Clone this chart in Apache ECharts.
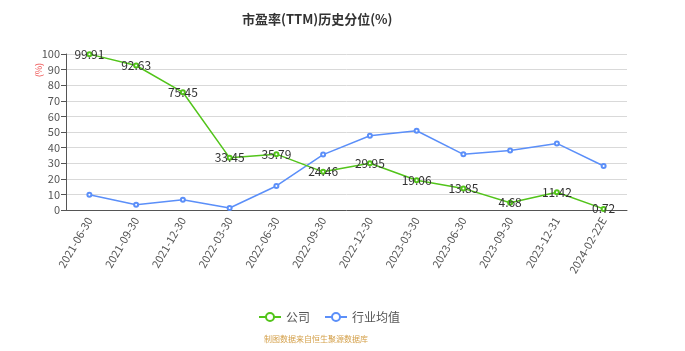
<!DOCTYPE html>
<html>
<head>
<meta charset="utf-8">
<script src="https://cdn.jsdelivr.net/npm/echarts@6/dist/echarts.min.js"></script>
<style>
  html, body { margin: 0; padding: 0; background: #fff; }
  #main { width: 685px; height: 351px; }
</style>
</head>
<body>
<div id="main"></div>
<script>
// 报告期
const dates = ['2021-06-30', '2021-09-30', '2021-12-30', '2022-03-30', '2022-06-30', '2022-09-30',
  '2022-12-30', '2023-03-30', '2023-06-30', '2023-09-30', '2023-12-31', '2024-02-22E'];
// 公司 PE(TTM) 历史分位
const companyVals = [99.91, 92.63, 75.45, 33.45, 35.79, 24.46, 29.95, 19.06, 13.85, 4.68, 11.42, 0.72];
// 行业均值
const industryVals = [9.8, 3.4, 6.6, 1.3, 15.4, 35.5, 47.6, 50.8, 35.7, 38.2, 42.7, 28.2];

const font = '"Noto Sans CJK SC", "Noto Sans", sans-serif';
const chart = echarts.init(document.getElementById('main'));

const option = {
  backgroundColor: '#fff',
  animation: false,
  textStyle: { fontFamily: font },
  title: {
    text: '市盈率(TTM)历史分位(%)',
    left: 237,
    top: 8,
    textStyle: { fontSize: 13, fontWeight: 'bold', color: '#333', fontFamily: font }
  },
  grid: { left: 66, right: 58, top: 54, bottom: 141 },
  legend: {
    left: 253,
    top: 306,
    itemWidth: 22,
    itemHeight: 10,
    itemGap: 14,
    textStyle: { fontSize: 12, color: '#555', fontFamily: font },
    data: ['公司', '行业均值']
  },
  xAxis: {
    type: 'category',
    data: dates,
    boundaryGap: true,
    axisLine: { lineStyle: { color: '#555' } },
    axisTick: { lineStyle: { color: '#555' } },
    axisLabel: { rotate: 60, fontSize: 11, color: '#555', interval: 0, margin: 8 }
  },
  yAxis: {
    type: 'value',
    min: 0,
    max: 100,
    interval: 10,
    axisLine: { show: true, lineStyle: { color: '#555' } },
    axisTick: { show: true, lineStyle: { color: '#555' } },
    axisLabel: { fontSize: 11, color: '#555', margin: 6 },
    splitLine: { lineStyle: { color: '#d9d9d9' } }
  },
  graphic: [
    {
      type: 'text',
      left: 34,
      top: 63,
      rotation: Math.PI / 2,
      style: { text: '(%)', fill: '#ee5555', fontSize: 9, fontFamily: font }
    },
    {
      type: 'text',
      left: 264,
      top: 335,
      style: { text: '制图数据来自恒生聚源数据库', fill: '#d4a04a', fontSize: 8, fontFamily: font }
    }
  ],
  series: [
    {
      name: '公司',
      type: 'line',
      data: companyVals,
      symbol: 'emptyCircle',
      symbolSize: 4,
      itemStyle: { color: '#52c41a', borderWidth: 1 },
      lineStyle: { width: 1.5, color: '#52c41a' },
      label: { show: true, position: 'inside', fontSize: 12, color: '#333' },
      z: 3
    },
    {
      name: '行业均值',
      type: 'line',
      data: industryVals,
      symbol: 'emptyCircle',
      symbolSize: 4,
      itemStyle: { color: '#5b8ff9', borderWidth: 1 },
      lineStyle: { width: 1.5, color: '#5b8ff9' },
      z: 2
    }
  ]
};

chart.setOption(option);
</script>
</body>
</html>
